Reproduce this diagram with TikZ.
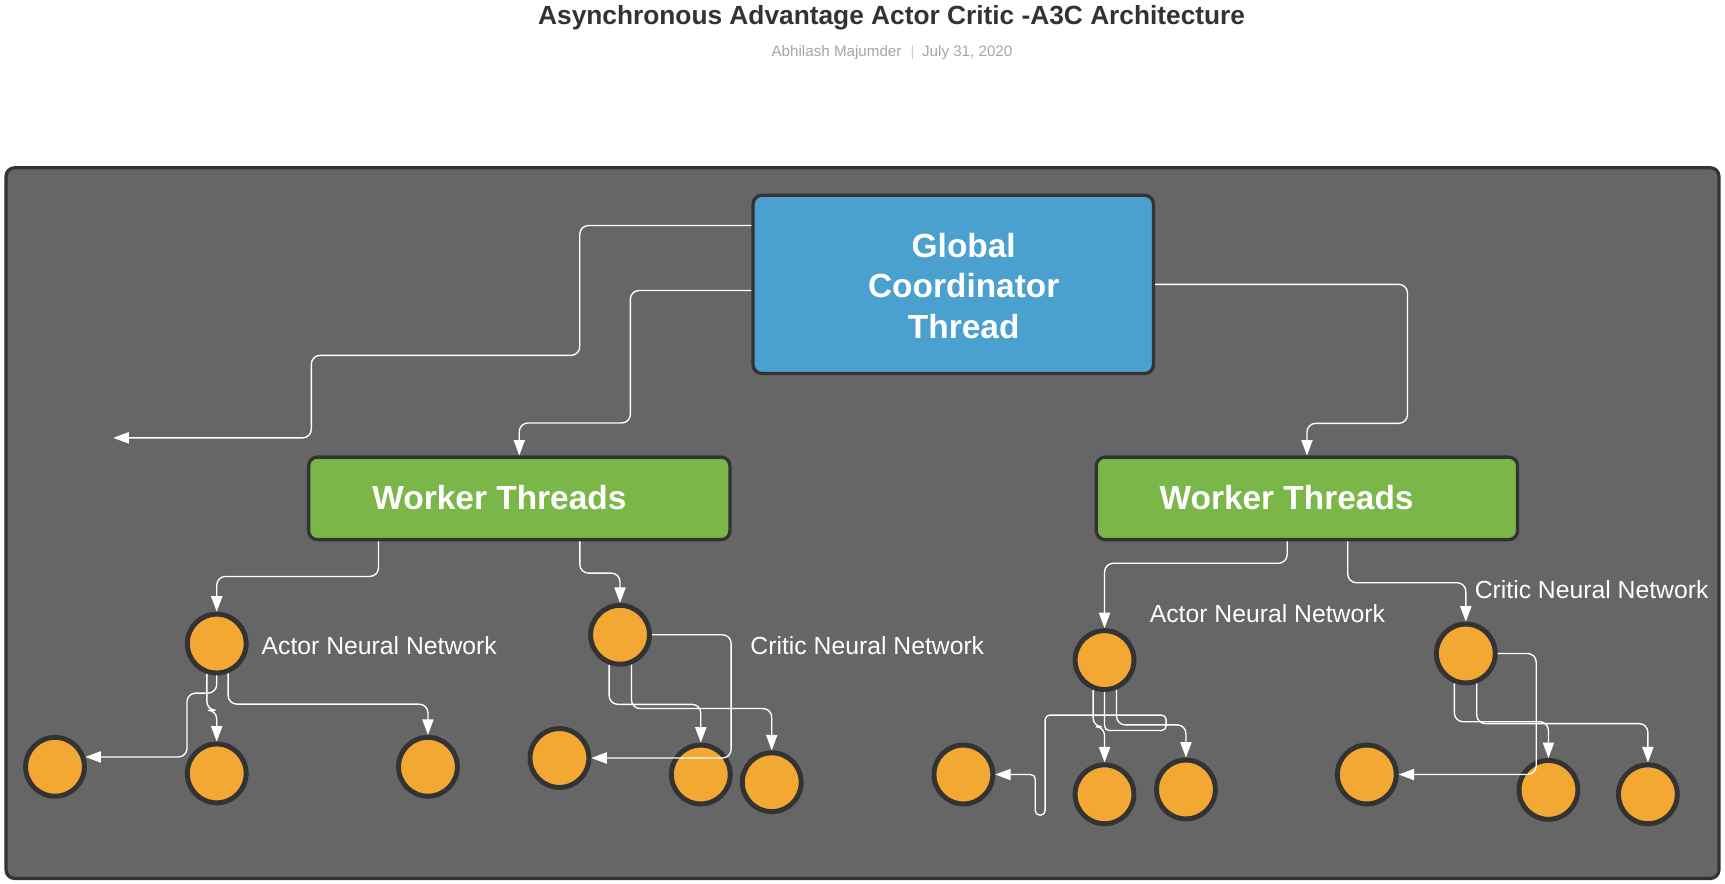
\documentclass[tikz,border=0pt]{standalone}
\usepackage{fontspec}
\setmainfont{Liberation Sans}
\usetikzlibrary{arrows.meta,calc}
\definecolor{panelfill}{HTML}{666666}
\definecolor{darkline}{HTML}{333333}
\definecolor{gblue}{HTML}{4AA0CF}
\definecolor{wgreen}{HTML}{7AB648}
\definecolor{norange}{HTML}{F2A833}
\definecolor{titlegray}{HTML}{333333}
\definecolor{subgray}{HTML}{A6A6A6}
\definecolor{bargray}{HTML}{D0D0D0}
\begin{document}
\begin{tikzpicture}[x=0.02cm,y=-0.02cm,
  box/.style={draw=darkline, line width=1.7pt, rounded corners=4.5pt, inner sep=0pt},
  neuron/.style={circle, draw=darkline, fill=norange, line width=2.55pt, minimum size=1.07cm, inner sep=0pt},
  conn/.style={draw=white, line width=0.7pt, rounded corners=4.5pt, -{Triangle[length=8pt,width=5.8pt]}},
  tightconn/.style={conn, rounded corners=2.4pt},
  boxtext/.style={text=white, font=\fontsize{17.3}{21}\selectfont\bfseries, align=center, inner sep=0pt},
  nnlabel/.style={text=white, font=\fontsize{12.8}{15}\selectfont, anchor=base west, inner sep=0pt},
]
\useasboundingbox (0,0) rectangle (1568,803.5);
\fill[white] (0,0) rectangle (1568,803.5);

% title
\node[anchor=base, text=titlegray, font=\fontsize{13.6}{16}\selectfont\bfseries, inner sep=0pt] (title) at (810.5,22) {Asynchronous Advantage Actor Critic -A3C Architecture};
\node[anchor=base, text=subgray, font=\fontsize{7.85}{9}\selectfont, inner sep=0pt] (subtitle) at (810.8,51) {Abhilash Majumder\hspace{0.6em}{\color{bargray}|}\hspace{0.5em}July 31, 2020};

% panel
\draw[fill=panelfill, draw=darkline, line width=1.7pt, rounded corners=4.5pt] (5.5,152.5) rectangle (1562.5,798.5);

% boxes
\node[box, fill=gblue, minimum width=7.28cm, minimum height=3.24cm] (G) at (866.5,258.5) {};
\node[boxtext] (Gt) at (876,260) {Global\\Coordinator\\Thread};
\node[box, fill=wgreen, minimum width=7.66cm, minimum height=1.5cm] (WL) at (472,453) {};
\node[box, fill=wgreen, minimum width=7.66cm, minimum height=1.5cm] (WR) at (1188,453) {};
\node[boxtext, anchor=base] (WLt) at (454,463) {Worker Threads};
\node[boxtext, anchor=base] (WRt) at (1169.5,463) {Worker Threads};

% neurons
\node[neuron] (A1) at (197,585) {};
\node[neuron] (AL) at (50,697) {};
\node[neuron] (AM) at (197,703) {};
\node[neuron] (AR) at (389,697) {};
\node[neuron] (C1) at (563.6,577) {};
\node[neuron] (CL) at (508.5,689) {};
\node[neuron] (CM) at (637,704) {};
\node[neuron] (CR) at (701.5,711) {};
\node[neuron] (A2) at (1004,600) {};
\node[neuron] (BL) at (875.7,704) {};
\node[neuron] (BM) at (1004,722) {};
\node[neuron] (BR) at (1078,717.6) {};
\node[neuron] (C2) at (1332.4,594) {};
\node[neuron] (DL) at (1242.4,704) {};
\node[neuron] (DM) at (1407.5,718) {};
\node[neuron] (DR) at (1497.9,722) {};

% labels
\node[nnlabel] (lA1) at (237.5,594.5) {Actor Neural Network};
\node[nnlabel] (lC1) at (681.8,594.5) {Critic Neural Network};
\node[nnlabel] (lA2) at (1044.8,565.7) {Actor Neural Network};
\node[nnlabel] (lC2) at (1340.2,543.9) {Critic Neural Network};

% global connectors
\coordinate (FE) at (103,398);
\draw[conn] ($(G.north west)+(0,29)$) -| (527,323) -| (283,398) -- (FE);
\draw[conn] ($(G.north west)+(0,88)$) -| (573,384.5) -| (WL.north);
\draw[conn] (G.east) -| (1279.4,384.8) -| (WR.north);

% worker connectors
\draw[conn] ($(WL.south west)+(65,0)$) -- ++(0,32) -| (A1.north);
\draw[conn] ($(WL.south west)+(248,0)$) -- ++(0,29) -| (C1.north);
\draw[conn] ($(WR.south west)+(175,0)$) -- ++(0,20) -| (A2.north);
\draw[conn] ($(WR.south west)+(230,0)$) -- ++(0,37.7) -| (C2.north);

% left actor
\draw[conn] (A1.south) -- ++(0,16) -- ++(-27,0) |- (AL.18);
\draw[conn] (A1.-108) -- ++(0,33) -| (AM.north);
\draw[conn] (A1.-69) -- ++(0,28) -| (AR.north);

% left critic
\draw[conn] (C1.east) -- ++(72,0) |- (CL.east);
\draw[conn] (C1.-110) -- ++(0,36) -| (CM.north);
\draw[conn] (C1.-69) -- ++(0,40) -| (CR.north);

% right actor
\draw[conn] (A2.-111) -- ++(0,33.5) -| (BM.north);
\draw[tightconn] (A2.south) -- ++(0,35) -- ++(56,0) -- ++(0,-14) -- ++(-110,0) -- ++(0,91) -- ++(-9,0) |- (BL.east);
\draw[conn] (A2.-68) -- ++(0,32) -| (BR.north);

% right critic
\draw[conn] (C2.east) -- ++(35,0) |- (DL.east);
\draw[conn] (C2.-111) -- ++(0,35) -| (DM.north);
\draw[conn] (C2.-70) -- ++(0,36.5) -| (DR.north);
\end{tikzpicture}
\end{document}
